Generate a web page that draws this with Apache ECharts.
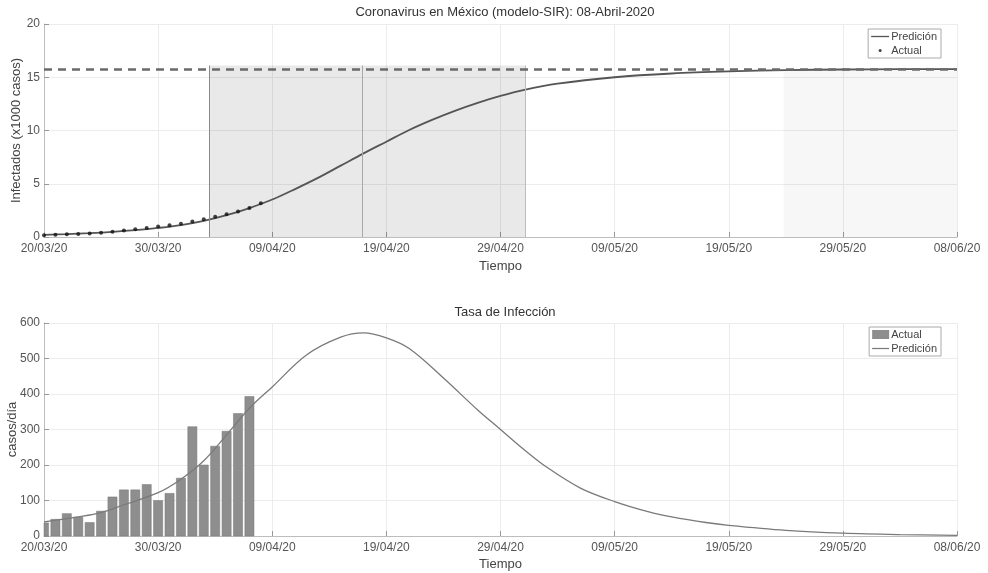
<!DOCTYPE html>
<html>
<head>
<meta charset="utf-8">
<script src="https://cdn.jsdelivr.net/npm/echarts@6/dist/echarts.min.js"></script>
<style>
html,body{margin:0;padding:0;background:#fff;}
#c{width:988px;height:573px;}
</style>
</head>
<body>
<div id="c"></div>
<script>
// ---- data ----
const tickLabels = ['20/03/20','30/03/20','09/04/20','19/04/20','29/04/20','09/05/20','19/05/20','29/05/20','08/06/20'];

// cumulative infected (x1000): model prediction samples
const predCumDays = [0,2,4,6,8,10,12,14,16,18,20,22,24,26,28,30,32,34,36,38,40,42,45,50,55,60,65,70,75,80];
const predCumVals = [0.2,0.27,0.36,0.48,0.64,0.85,1.12,1.52,2.05,2.72,3.52,4.5,5.55,6.7,7.85,8.95,10.05,11.0,11.85,12.6,13.25,13.8,14.4,15.0,15.35,15.55,15.67,15.73,15.76,15.77];

// cumulative infected (x1000): observed
const actualCumDays = [0,1,2,3,4,5,6,7,8,9,10,11,12,13,14,15,16,17,18,19];
const actualCumVals = [0.17,0.2,0.25,0.29,0.33,0.4,0.5,0.6,0.72,0.85,0.98,1.1,1.25,1.45,1.66,1.91,2.13,2.4,2.72,3.16];

// final size (x1000)
const finalSize = 15.77;

// daily cases: observed
const barDays = [0,1,2,3,4,5,6,7,8,9,10,11,12,13,14,15,16,17,18];
const barVals = [37,47,63,53,38,70,110,130,130,145,100,120,163,308,200,253,295,345,393];

// daily cases: model prediction samples
const predRateDays = [0,3,5,7,10,12,14,16,18,20,23,26,28,30,32,35,38,40,42,44,47,50,53,55,58,60,65,70,75,80];
const predRateVals = [40,54,66,88,122,160,212,285,360,420,510,560,572,558,528,445,355,300,245,195,135,97,68,54,38,30,16,8,4,2];

// phases (days since 20/03/20)
const phaseStart = 14.5, peakDay = 27.9, phaseEnd = 42.2, endPhaseStart = 64.8, phaseTop = 16.1, endPhaseTop = 15.6;

// ---- chart ----
const FONT = 'Liberation Sans, Arial, sans-serif';
const names = {predCum:'Predición', actualCum:'Actual', actualRate:'Actual', predRate:'Predición'};
const pair = (xs, ys) => xs.map((x, i) => [x, ys[i]]);
const LINE_ICON = 'path://M0,0 H18 V1.3 H0 Z';

function xAxisCfg(gridIndex, gap) {
  return {
    type: 'value', gridIndex, min: 0, max: 80, interval: 10,
    name: 'Tiempo', nameLocation: 'middle', nameGap: gap, nameMoveOverlap: false,
    nameTextStyle: {fontFamily: FONT, fontSize: 13, color: '#444'},
    axisLine: {show: true, lineStyle: {color: '#bdbdbd', width: 1}},
    axisTick: {show: true, inside: true, length: 5, lineStyle: {color: '#999'}},
    axisLabel: {fontFamily: FONT, fontSize: 12, color: '#555', margin: 6,
      formatter: v => tickLabels[Math.round(v / 10)] || ''},
    splitLine: {show: true, lineStyle: {color: '#ececec', width: 1}}
  };
}
function yAxisCfg(gridIndex, max, interval, name, gap) {
  return {
    type: 'value', gridIndex, min: 0, max, interval,
    name, nameLocation: 'middle', nameGap: gap, nameMoveOverlap: false,
    nameTextStyle: {fontFamily: FONT, fontSize: 13, color: '#444'},
    axisLine: {show: true, lineStyle: {color: '#bdbdbd', width: 1}},
    axisTick: {show: true, inside: true, length: 5, lineStyle: {color: '#999'}},
    axisLabel: {fontFamily: FONT, fontSize: 12, color: '#555', margin: 4},
    splitLine: {show: true, lineStyle: {color: '#ececec', width: 1}}
  };
}

function renderBar(params, api) {
  const x = api.value(0), v = api.value(1);
  const p0 = api.coord([x, 0]);
  const p1 = api.coord([x, v]);
  const w = api.size([1, 0])[0] * 0.8;
  const cs = params.coordSys;
  const shape = echarts.graphic.clipRectByRect(
    {x: p0[0] - w / 2, y: p1[1], width: w, height: p0[1] - p1[1]},
    {x: cs.x, y: cs.y, width: cs.width, height: cs.height}
  );
  return shape && {type: 'rect', shape, style: api.style({fill: '#8e8e8e', stroke: '#777', lineWidth: 0.5})};
}

const chart = echarts.init(document.getElementById('c'), null, {renderer: 'canvas'});
chart.setOption({
  animation: false,
  backgroundColor: '#ffffff',
  title: [
    {text: 'Coronavirus en México (modelo-SIR): 08-Abril-2020', left: 500, top: 1, textAlign: 'center',
     textStyle: {fontFamily: FONT, fontSize: 13, fontWeight: 'normal', color: '#333'}},
    {text: 'Tasa de Infección', left: 500, top: 301, textAlign: 'center',
     textStyle: {fontFamily: FONT, fontSize: 13, fontWeight: 'normal', color: '#333'}}
  ],
  grid: [
    {left: 44, right: 31, top: 24, height: 213, outerBoundsMode: 'none', containLabel: false},
    {left: 44, right: 31, top: 323, height: 213, outerBoundsMode: 'none', containLabel: false}
  ],
  xAxis: [xAxisCfg(0, 23), xAxisCfg(1, 22)],
  yAxis: [
    yAxisCfg(0, 20, 5, 'Infectados (x1000 casos)', 21),
    yAxisCfg(1, 600, 100, 'casos/día', 25)
  ],
  legend: [
    {
      right: 47, top: 29, orient: 'vertical', itemGap: 3,
      itemWidth: 18, itemHeight: 3,
      padding: [2, 4, 2, 3], borderColor: '#aaa', borderWidth: 1, backgroundColor: '#fff',
      textStyle: {fontFamily: FONT, fontSize: 11, color: '#444', padding: [0, 0, 0, -3]},
      formatter: n => names[n],
      data: [{name: 'predCum', icon: LINE_ICON}, 'actualCum']
    },
    {
      right: 47, top: 327, orient: 'vertical', itemGap: 3,
      itemWidth: 17, itemHeight: 9,
      padding: [2, 4, 2, 3], borderColor: '#aaa', borderWidth: 1, backgroundColor: '#fff',
      textStyle: {fontFamily: FONT, fontSize: 11, color: '#444', padding: [0, 0, 0, -3]},
      formatter: n => names[n],
      data: [{name: 'actualRate', icon: 'rect'}, {name: 'predRate', icon: LINE_ICON}]
    }
  ],
  series: [
    {
      name: 'predCum', type: 'line', xAxisIndex: 0, yAxisIndex: 0,
      data: pair(predCumDays, predCumVals), smooth: 0.35,
      symbol: 'none', lineStyle: {color: '#555', width: 1.8}, itemStyle: {color: '#555'},
      z: 4,
      markArea: {
        silent: true,
        data: [
          [{coord: [phaseStart, 0], itemStyle: {color: 'rgba(0,0,0,0.085)'}}, {coord: [phaseEnd, phaseTop]}],
          [{coord: [endPhaseStart, 0], itemStyle: {color: 'rgba(0,0,0,0.03)'}}, {coord: [80, endPhaseTop]}]
        ]
      },
      markLine: {
        silent: true, symbol: 'none', label: {show: false},
        data: [
          [{coord: [phaseStart, 0], lineStyle: {color: '#8a8a8a', width: 1, type: 'solid'}}, {coord: [phaseStart, phaseTop]}],
          [{coord: [peakDay, 0], lineStyle: {color: '#a8a8a8', width: 1, type: 'solid'}}, {coord: [peakDay, phaseTop]}],
          [{coord: [phaseEnd, 0], lineStyle: {color: '#bdbdbd', width: 1, type: 'solid'}}, {coord: [phaseEnd, phaseTop]}],
          {yAxis: finalSize, lineStyle: {color: '#6a6a6a', width: 2.5, type: [8, 6]}}
        ]
      }
    },
    {
      name: 'actualCum', type: 'scatter', xAxisIndex: 0, yAxisIndex: 0,
      data: pair(actualCumDays, actualCumVals), symbol: 'circle', symbolSize: 4,
      itemStyle: {color: '#111'}, z: 5
    },
    {
      name: 'actualRate', type: 'custom', xAxisIndex: 1, yAxisIndex: 1,
      data: pair(barDays, barVals), renderItem: renderBar,
      encode: {x: 0, y: 1},
      itemStyle: {color: '#8e8e8e'}, z: 2
    },
    {
      name: 'predRate', type: 'line', xAxisIndex: 1, yAxisIndex: 1,
      data: pair(predRateDays, predRateVals), smooth: 0.35,
      symbol: 'none', lineStyle: {color: '#7a7a7a', width: 1.3}, itemStyle: {color: '#7a7a7a'}, z: 4
    }
  ]
});
</script>
</body>
</html>
